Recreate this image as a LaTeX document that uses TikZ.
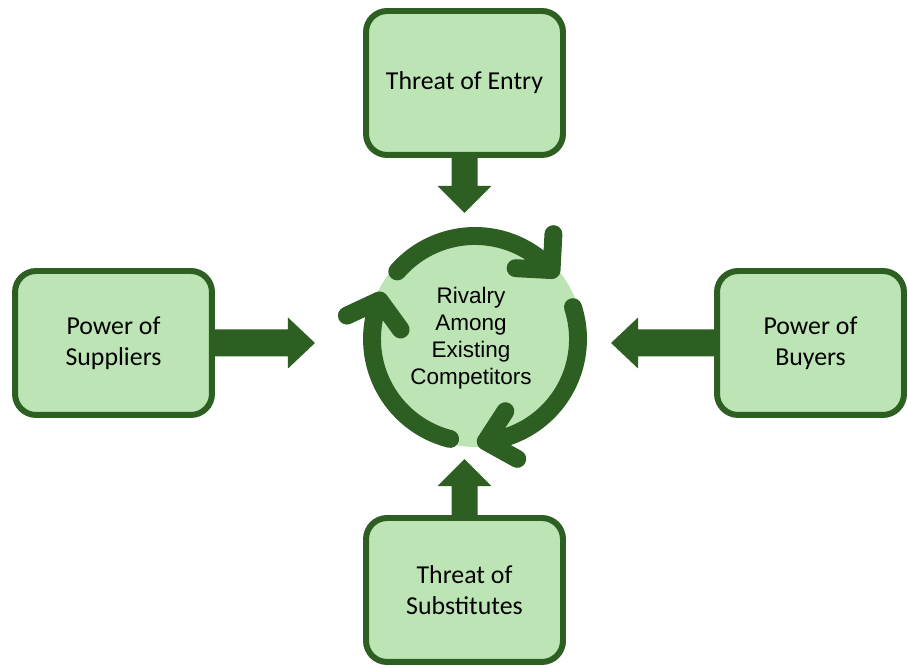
\documentclass[tikz,border=0pt]{standalone}
\usepackage{fontspec}
\newfontfamily\boxfont{Carlito}
\newfontfamily\ringfont{Liberation Sans}
\usetikzlibrary{calc}
\definecolor{leafgreen}{RGB}{189,228,181}
\definecolor{darkleaf}{RGB}{45,94,34}

\begin{document}
\begin{tikzpicture}[x=0.02cm, y=0.02cm,
	force/.style={draw=darkleaf, fill=leafgreen, line width=3.4pt, rounded corners=12pt,
		minimum width=3.94cm, minimum height=2.88cm, align=center,
		font=\boxfont\fontsize{14.7}{17.6}\selectfont},
	ring/.style={draw=darkleaf, line width=10.2pt, line cap=round, line join=round},
	block/.style={fill=darkleaf}]
			
			\useasboundingbox (0,0) rectangle (908,668);
			
			\def\rr{103}
			\coordinate (C) at (475,329);
			
			\fill[leafgreen] (C) circle[radius=108];
			\node[font=\ringfont\fontsize{12.8}{15.3}\selectfont, align=center] (rival) at (471,330)
			{Rivalry\\Among\\Existing\\Competitors};
			
			\draw[ring] ([shift={(139:\rr)}]C) arc[start angle=139, end angle=42, radius=\rr]
			-- ++(87:36) ++(267:36) -- ++(177:36);
			\draw[ring] ([shift={(18:\rr)}]C) arc[start angle=18, end angle=-84, radius=\rr]
			-- ++(57:36) ++(237:36) -- ++(-29:36);
			\draw[ring] ([shift={(256:\rr)}]C) arc[start angle=256, end angle=158, radius=\rr]
			-- ++(-54:36) ++(126:36) -- ++(205:36);
			
			\node[force] (entry) at (464.5,585) {Threat of Entry};
			\node[force] (suppliers) at (113.5,325) {Power of\\Suppliers};
			\node[force, minimum width=3.74cm] (buyers) at (810.5,325) {Power of\\Buyers};
			\node[force] (subst) at (464.5,78) {Threat of\\Substitutes};
			
			\fill[block] (entry.south) ++(-13,0) -- ++(0,-28) -- ++(-14,0) -- ++(27,-27)
			-- ++(27,27) -- ++(-14,0) -- ++(0,28) -- cycle;
			\fill[block] (suppliers.east) ++(0,13.5) -- ++(73,0) -- ++(0,12) -- ++(27,-25.5)
			-- ++(-27,-25.5) -- ++(0,12) -- ++(-73,0) -- cycle;
			\fill[block] (buyers.west) ++(0,13.5) -- ++(-76,0) -- ++(0,12) -- ++(-27,-25.5)
			-- ++(27,-25.5) -- ++(0,12) -- ++(76,0) -- cycle;
			\fill[block] (subst.north) ++(-13,0) -- ++(0,29) -- ++(-14,0) -- ++(27,27)
			-- ++(27,-27) -- ++(-14,0) -- ++(0,-29) -- cycle;
			
\end{tikzpicture}
\end{document}
